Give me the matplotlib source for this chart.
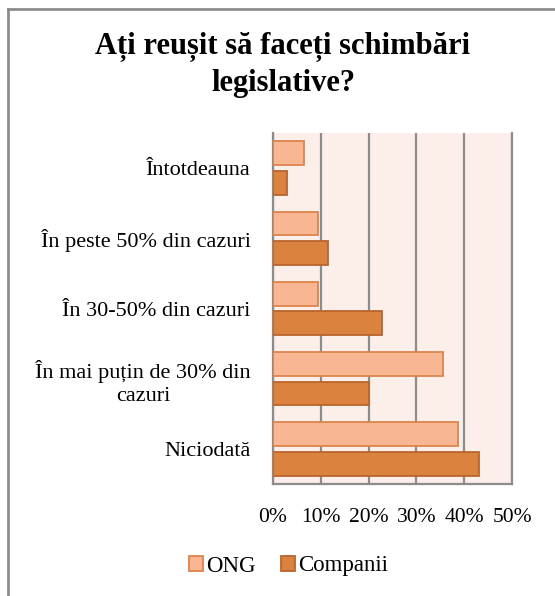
import numpy as np
import matplotlib.pyplot as plt
from matplotlib.lines import Line2D
from matplotlib.ticker import FuncFormatter

# ================= DATA =================
categories = ["Întotdeauna", "În peste 50% din cazuri", "În 30-50% din cazuri",
              "În mai puțin de 30% din\ncazuri", "Niciodată"]
ong = [6.5, 9.5, 9.5, 35.5, 38.8]
companii = [2.9, 11.5, 22.9, 20.0, 43.0]
xticks = [0, 10, 20, 30, 40, 50]

FONT = ["Liberation Serif", "DejaVu Serif"]
plt.rcParams["font.family"] = FONT

# ================= FIGURE =================
fig = plt.figure(figsize=(5.55, 5.96), dpi=100)
ax = fig.add_axes([273 / 555, 1 - 484 / 596, (512 - 273) / 555, (484 - 133) / 596])

y = np.arange(len(categories))
h = 0.34
off = 0.21
ax.barh(y - off, ong, height=h, color="#F8B692", edgecolor="#DC844C", linewidth=1.3,
        label="ONG", zorder=3)
ax.barh(y + off, companii, height=h, color="#DB833E", edgecolor="#B9652D", linewidth=1.3,
        label="Companii", zorder=3)

ax.set_ylim(len(categories) - 0.5, -0.5)
ax.set_xlim(0, 50)
ax.set_facecolor("#FCEEE9")
ax.set_xticks(xticks)
ax.xaxis.set_major_formatter(FuncFormatter(lambda v, p: f"{v:.0f}%"))
ax.set_yticks(y)
ax.set_yticklabels(categories, fontsize=16, multialignment="center", linespacing=1.25)
ax.tick_params(axis="x", labelsize=15.5, length=0, pad=17)
ax.tick_params(axis="y", length=0, pad=16)
ax.grid(axis="x", color="#8C8C8C", linewidth=1.6, zorder=1)
ax.spines["top"].set_visible(False)
for s in ["left", "bottom", "right"]:
    ax.spines[s].set_color("#8C8C8C")
    ax.spines[s].set_linewidth(1.6)

fig.text(0.51, 1 - 65 / 596, "Ați reușit să faceți schimbări\nlegislative?", ha="center",
         va="center", fontsize=22, fontweight="bold", linespacing=1.3)

handles = [
    plt.Rectangle((0, 0), 1, 1, facecolor="#F8B692", edgecolor="#DC844C", linewidth=1.3),
    plt.Rectangle((0, 0), 1, 1, facecolor="#DB833E", edgecolor="#B9652D", linewidth=1.3),
]
fig.legend(handles, ["ONG", "Companii"], loc="center", bbox_to_anchor=(0.52, 1 - 566 / 596),
           ncol=2, frameon=False, fontsize=16.5, handlelength=0.6, handleheight=0.6,
           handletextpad=0.15, columnspacing=1.1)

# chart border (top and left visible)
fig.add_artist(Line2D([8 / 555, 8 / 555], [0, 1 - 9 / 596], color="#8C8C8C", linewidth=2))
fig.add_artist(Line2D([8 / 555, 1], [1 - 9 / 596, 1 - 9 / 596], color="#8C8C8C", linewidth=2))

plt.savefig("out.png", dpi=100)
plt.close()
